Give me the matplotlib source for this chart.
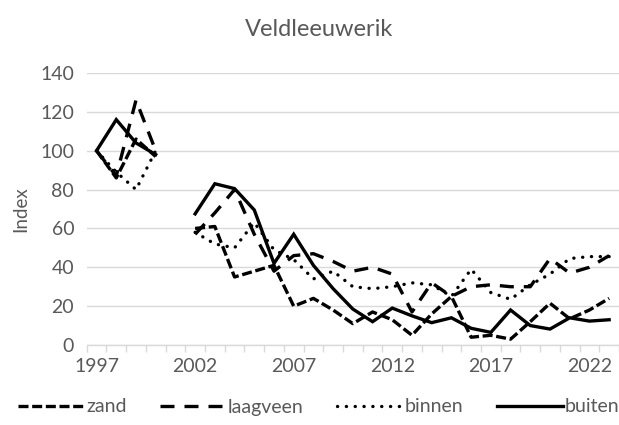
import numpy as np
import matplotlib
matplotlib.use('Agg')
import matplotlib.pyplot as plt

nan = np.nan
years = list(range(1997, 2024))
zand = [100, 86, 106, 97, nan, 60, 61, 35, 38, 41, 20, 24, 18, 11, 17, 13, 5, 16, 25,
        4, 5, 3, 12, 21.5, 13.5, 18, 24]
laagveen = [100, 87, 126, 100, nan, 57, 68, 80, 57, 38, 46, 47, 43, 38, 40, 36.5, 17, 32, 25,
            30, 31, 30, 30, 44.5, 37, 40, 46]
binnen = [100, 89, 80, 100, nan, 58, 52, 50, 63, 49, 44, 34, 38, 30, 29, 30, 32, 31, 25,
          39, 27, 23.5, 31, 36.5, 44.5, 45.5, 45.5]
buiten = [100, 116, 104, 98, nan, 67.5, 83, 80.5, 69.5, 42, 57, 41, 29, 18.5, 12, 19, 15, 11.5, 14,
          8.6, 6.5, 18, 10, 8.2, 14, 12.3, 13]
yticks = [0, 20, 40, 60, 80, 100, 120, 140]
xlabel_years = [1997, 2002, 2007, 2012, 2017, 2022]

FONT = ['Lato', 'DejaVu Sans']
plt.rcParams['font.family'] = FONT
TXT = '#595959'
GRID = '#d9d9d9'

W, H = 619, 425
fig = plt.figure(figsize=(W / 100, H / 100), dpi=100)
left_px, right_px = 86.7, 619
top_px, bot_px = 73, 345
ax = fig.add_axes([left_px / W, (H - bot_px) / H, (right_px - left_px) / W, (bot_px - top_px) / H])

step = 19.8
x = np.arange(len(years))
ax.set_xlim(-0.5, -0.5 + (right_px - left_px) / step)
ax.set_ylim(0, 140)

lw = 2.4
l1, = ax.plot(x, zand, color='black', lw=lw, dashes=(3, 1.1), dash_capstyle='butt', label='zand')
l2, = ax.plot(x, laagveen, color='black', lw=lw, dashes=(4.2, 3), dash_capstyle='butt', label='laagveen')
l3, = ax.plot(x, binnen, color='black', lw=lw, dashes=(0.05, 2.6), dash_capstyle='round', label='binnen')
l4, = ax.plot(x, buiten, color='black', lw=lw, solid_joinstyle='miter', label='buiten')

ax.set_yticks(yticks)
ax.yaxis.grid(True, color=GRID, lw=1)
ax.set_axisbelow(True)
ax.tick_params(axis='y', length=0, labelsize=14, labelcolor=TXT, pad=9)

idx = [years.index(y) for y in xlabel_years]
ax.set_xticks(idx)
ax.set_xticklabels([str(y) for y in xlabel_years])
ax.tick_params(axis='x', length=0, labelsize=14, labelcolor=TXT, pad=9)
ax.set_xticks(np.arange(-0.5, len(years) + 0.5, 1), minor=True)
ax.tick_params(axis='x', which='minor', length=5, color=GRID, width=1, direction='out')

for s in ['top', 'right', 'left']:
    ax.spines[s].set_visible(False)
ax.spines['bottom'].set_color(GRID)
ax.spines['bottom'].set_linewidth(1)

ax.set_ylabel('Index', color=TXT, fontsize=13.5, labelpad=8)
fig.text(319 / W, 1 - 30 / H, 'Veldleeuwerik', ha='center', va='center', color=TXT, fontsize=17)

leg = fig.legend(handles=[l1, l2, l3, l4], loc='center', bbox_to_anchor=(0.515, 1 - 407 / H),
                 ncol=4, frameon=False, fontsize=14, handlelength=3.4, handletextpad=0.1,
                 columnspacing=1.7, labelcolor=TXT)

fig.savefig('out.png', dpi=100)
